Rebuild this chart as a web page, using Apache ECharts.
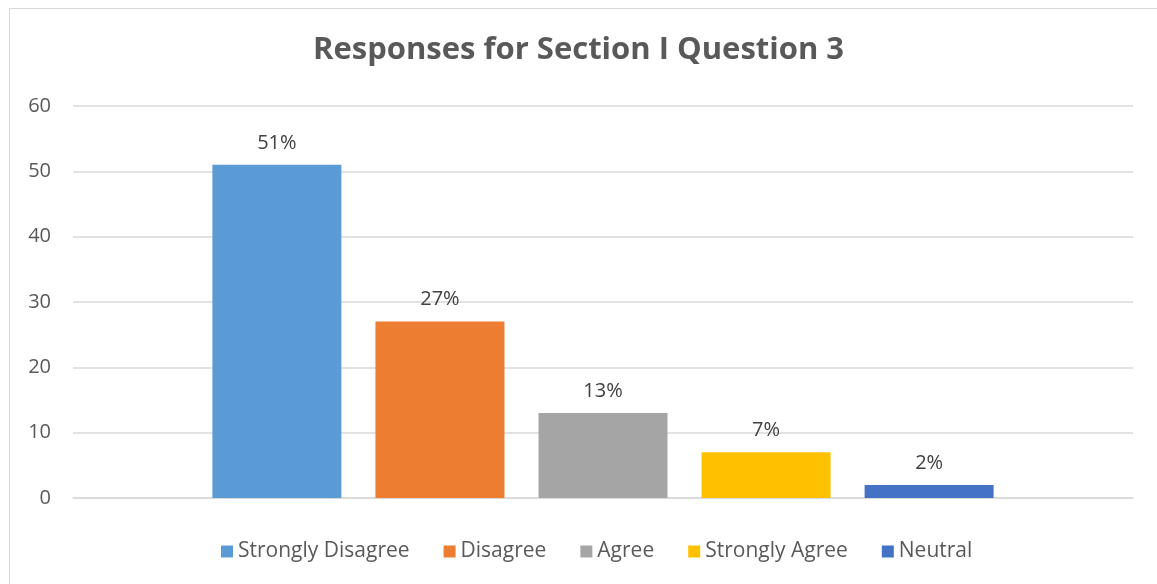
<!DOCTYPE html>
<html>
<head>
<meta charset="utf-8">
<script src="https://cdn.jsdelivr.net/npm/echarts@6/dist/echarts.min.js"></script>
<style>
html,body{margin:0;padding:0;background:#fff;}
#frame{position:absolute;left:9px;top:8px;width:1160px;height:600px;border:1.5px solid #d9d9d9;box-sizing:border-box;}
#chart{position:absolute;left:0;top:0;width:1157px;height:584px;}
</style>
</head>
<body>
<div id="frame"></div>
<div id="chart"></div>
<script>
const title = 'Responses for Section I Question 3';
const seriesNames = ['Strongly Disagree', 'Disagree', 'Agree', 'Strongly Agree', 'Neutral'];
const seriesValues = [51, 27, 13, 7, 2];
const seriesLabels = ['51%', '27%', '13%', '7%', '2%'];
const seriesColors = ['#5b9bd5', '#ed7d31', '#a5a5a5', '#ffc000', '#4472c4'];
const yTicks = [0, 10, 20, 30, 40, 50, 60];

const font = '"Open Sans", Lato, sans-serif';
const chart = echarts.init(document.getElementById('chart'), null, {renderer: 'canvas'});
const series = seriesNames.map((name, i) => ({
  name: name,
  type: 'bar',
  data: [seriesValues[i]],
  barWidth: 129,
  barGap: '26.4%',
  itemStyle: {color: seriesColors[i]},
  label: {
    show: true,
    position: 'top',
    distance: 12,
    formatter: () => seriesLabels[i],
    color: '#404040',
    fontSize: 20,
    fontFamily: font
  }
}));
chart.setOption({
  animation: false,
  backgroundColor: 'transparent',
  title: {
    text: title,
    left: 'center',
    top: 30,
    textStyle: {color: '#595959', fontSize: 31, fontWeight: 'bold', fontFamily: font}
  },
  legend: {
    data: seriesNames,
    bottom: 17,
    left: 216,
    itemWidth: 12,
    itemHeight: 12,
    itemGap: 34,
    icon: 'rect',
    textStyle: {color: '#595959', fontSize: 21, fontFamily: font}
  },
  grid: {left: 73, right: 24, top: 106, bottom: 86, containLabel: false},
  xAxis: {
    type: 'category',
    data: [''],
    axisLine: {show: true, lineStyle: {color: '#d9d9d9', width: 1.5}},
    axisTick: {show: false},
    axisLabel: {show: false}
  },
  yAxis: {
    type: 'value',
    min: yTicks[0],
    max: yTicks[yTicks.length - 1],
    interval: 10,
    axisLine: {show: false},
    axisTick: {show: false},
    axisLabel: {color: '#595959', fontSize: 20, fontFamily: font, margin: 22},
    splitLine: {lineStyle: {color: '#d9d9d9', width: 1.5}}
  },
  series: series
});
</script>
</body>
</html>
